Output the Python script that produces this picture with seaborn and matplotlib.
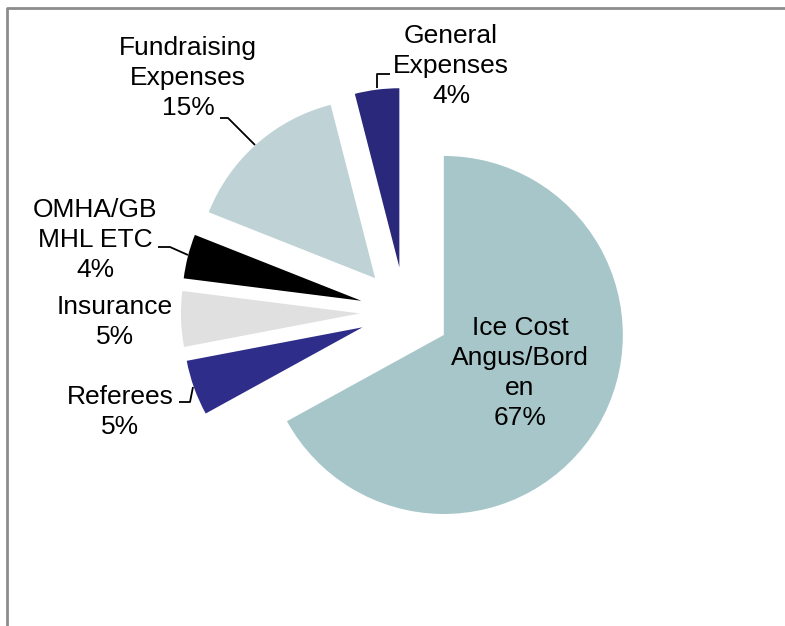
import matplotlib
matplotlib.use("Agg")
import matplotlib.pyplot as plt
import seaborn as sns

sns.set_theme(style="white")
plt.rcParams['font.family'] = ['Liberation Sans', 'DejaVu Sans']

categories = ["Ice Cost\nAngus/Bord\nen", "Referees", "Insurance", "OMHA/GB\nMHL ETC",
              "Fundraising\nExpenses", "General\nExpenses"]
values = [67, 5, 5, 4, 15, 4]
pct_labels = ["67%", "5%", "5%", "4%", "15%", "4%"]
colors = ["#A6C6C9", "#2E2E8A", "#E0E0E0", "#000000", "#BFD3D6", "#29287A"]
explode_frac = [0.252, 0.252, 0.252, 0.252, 0.252, 0.252]

W, H = 785, 626
R = 179
fig = plt.figure(figsize=(W / 100, H / 100), dpi=100)
fig.patch.set_facecolor("white")
ax = fig.add_axes([0, 0, 1, 1])

def py(y):
    return H - y

# matplotlib's explode is in data units, so scale by the radius
ax.pie(values, colors=colors, explode=[e * R for e in explode_frac], startangle=90,
       counterclock=False, center=(405, py(312)), radius=R, frame=True,
       wedgeprops=dict(linewidth=0))
ax.set_xlim(0, W)
ax.set_ylim(0, H)
ax.set_aspect("equal")
ax.axis("off")

fs = 19
label_pos = [(520, 373), (120, 412), (115, 322), (95, 240), (188, 78), (451, 66)]
for cat, pct, (x, y) in zip(categories, pct_labels, label_pos):
    ax.text(x, py(y), f"{cat}\n{pct}", ha="center", va="center", fontsize=fs,
            color="black", linespacing=1.3)

leaders = [
    [(220, 118), (228, 118), (255, 145)],
    [(377, 88), (377, 74), (390, 74)],
    [(158, 247), (170, 247), (188, 255)],
    [(179, 402), (190, 402), (193, 387)],
]
for pts in leaders:
    xs = [p[0] for p in pts]
    ys = [py(p[1]) for p in pts]
    ax.plot(xs, ys, color="black", linewidth=1.3, solid_capstyle="butt")

# chart area border (clipped at right and bottom)
ax.plot([7, 7, W + 10], [-10, py(8), py(8)], color="#8C8C8C", linewidth=2, clip_on=False)

fig.savefig("out.png", dpi=100)
